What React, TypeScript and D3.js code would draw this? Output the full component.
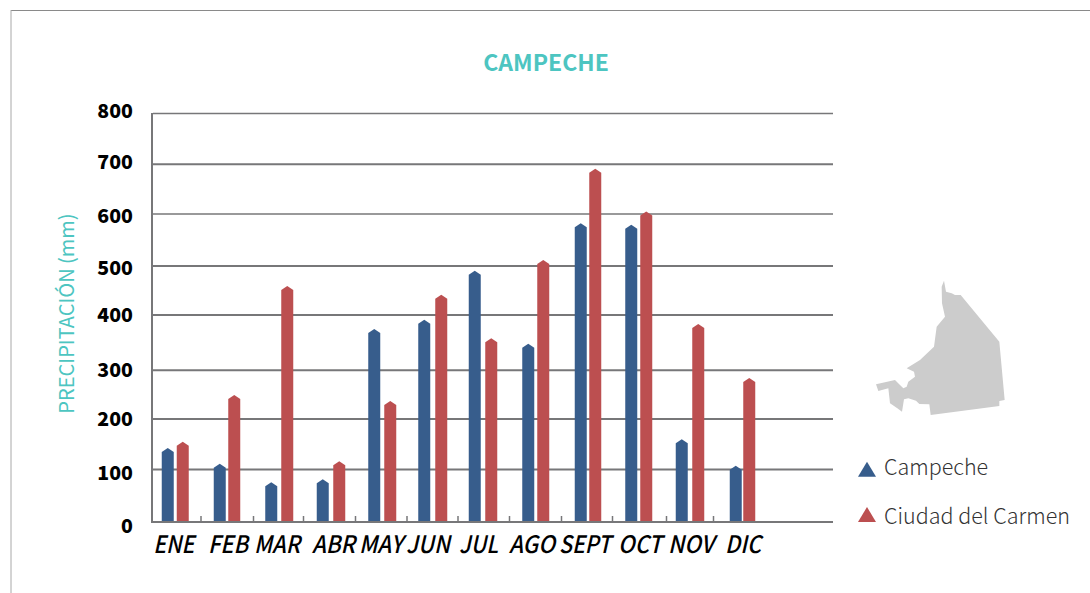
import React from "react";
import * as d3 from "d3";

const months = ["ENE", "FEB", "MAR", "ABR", "MAY", "JUN", "JUL", "AGO", "SEPT", "OCT", "NOV", "DIC"];
const campeche = [143, 112, 76, 82, 376, 394, 490, 347, 583, 580, 160, 108];
const carmen = [155, 247, 460, 117, 235, 443, 358, 511, 690, 606, 386, 280];
const yTicks = [0, 100, 200, 300, 400, 500, 600, 700, 800];
const seriesNames = ["Campeche", "Ciudad del Carmen"];

// Small per-item layout corrections for the uneven hand-placed original
const gridNudge = [0, -1.5, -0.9, 1.5, -2.75, -0.7, -1.6, -0.3, 0];
const gridWidth = [2, 2, 2, 2, 2, 2, 1.5, 2.2, 1.5];
const tickLabelDy = [10.5, 9, 5.8, 8.5, 4.25, 8.3, 7.1, 4.7, 4.5];
const labelNudge = [-2, 0.75, -1.75, 3.25, -0.75, -5.25, -6.25, -4.25, -2.75, 0.75, 0.25, 0.75];
const labelWidths = [41, 40, 46, 43, 44, 44, 39, 46, 52, 44, 46, 36];
const nudgeA = [-0.5, 0, 0, 0, 0, -1.5, -2.5, -0.5, 0.5, -0.5, -1.5, 1];
const nudgeB = [0, 0, 1.5, 2, 1.5, 1, -0.5, 0, 0.5, 0, 0.5, 0];
const tickNudge = [-0.5, 0.5, -1, -0.5, -0.5, -1, -1, -0.5, -1, 1.5, -3, -1.5];

const BLUE = "#375d8c";
const RED = "#bc4f50";
const TEAL = "#4dc5c1";
const GRID = "#777779";
const FONT = '"Noto Sans CJK SC", "Noto Sans", sans-serif';

const mapOutline: [number, number][] = [
  [312, 32], [318, 65], [335, 70], [345, 75], [362, 75], [478, 215], [494, 390], [478, 393], [478, 408],
  [272, 435], [268, 403], [238, 402], [228, 392], [205, 385], [192, 388], [186, 425], [172, 415], [150, 400],
  [145, 355], [115, 363], [108, 343], [165, 330], [180, 345], [190, 355], [200, 350], [205, 335], [225, 320],
  [222, 305], [200, 295], [240, 270], [282, 230], [290, 170], [315, 140], [306, 100], [305, 50],
];

const y = d3.scaleLinear().domain([0, 800]).range([522, 113.5]);
const x = d3.scaleBand().domain(months).range([150, 768]);

function barPath(cx: number, top: number, w: number) {
  const l = cx - w / 2;
  const r = cx + w / 2;
  const p = d3.path();
  p.moveTo(l, 522);
  p.lineTo(l, top + 3);
  p.lineTo(cx, top - 1);
  p.lineTo(r, top + 3);
  p.lineTo(r, 522);
  p.closePath();
  return p.toString();
}

const mapLine = d3.line<[number, number]>().x((d) => 840 + d[0] / 3).y((d) => 270 + d[1] / 3);

export default function App() {
  const bw = x.bandwidth();
  return (
    <svg width={1090} height={593} style={{ position: "absolute", left: 0, top: 0 }} fontFamily={FONT}>
      <rect width={1090} height={593} fill="#fff" />
      <line x1={11} x2={1090} y1={10.5} y2={10.5} stroke="#8a8a8a" strokeWidth={1} />
      <line x1={11} x2={11} y1={10} y2={593} stroke="#a8a8a8" strokeWidth={1} />
      <text x={546} y={70.7} textAnchor="middle" fontSize={23} fontWeight={700} fill={TEAL}>CAMPECHE</text>
      <text transform="translate(73.5,313.5) rotate(-90)" textAnchor="middle" fontSize={20} fill={TEAL}>PRECIPITACIÓN (mm)</text>
      {yTicks.map((t, i) => t > 0 && (
        <line key={t} x1={153} x2={833} y1={y(t) + gridNudge[i]} y2={y(t) + gridNudge[i]} stroke={GRID} strokeWidth={gridWidth[i]} />
      ))}
      {yTicks.map((t, i) => (
        <text key={t} x={133} y={y(t) + tickLabelDy[i]} textAnchor="end" fontSize={19.5} fontWeight={900} fill="#000">{t}</text>
      ))}
      {months.map((m, i) => {
        const b = x(m)!;
        const c = b + bw / 2;
        const tx = b + bw + tickNudge[i];
        return (
          <g key={m}>
            <path d={barPath(c - 7.5 + nudgeA[i], y(campeche[i]), 12)} fill={BLUE} />
            <path d={barPath(c + 7 + nudgeB[i], y(carmen[i]), 12)} fill={RED} />
            {i < 11 && <line x1={tx} x2={tx} y1={516} y2={522} stroke={GRID} strokeWidth={1.5} />}
            <text
              x={c + labelNudge[i]}
              y={552.7}
              textAnchor="middle"
              fontSize={24}
              fontWeight={500}
              fontStyle="italic"
              fill="#000"
              textLength={labelWidths[i]}
              lengthAdjust="spacingAndGlyphs"
            >
              {m}
            </text>
          </g>
        );
      })}
      <line x1={152} x2={152} y1={113} y2={523} stroke={GRID} strokeWidth={2} />
      <line x1={151} x2={833} y1={522} y2={522} stroke={GRID} strokeWidth={2} />
      <path d={mapLine(mapOutline)! + "Z"} fill="#cccccc" />
      {seriesNames.map((s, i) => {
        const base = [476.7, 522][i];
        const textY = [474.5, 523.5][i];
        return (
          <g key={s}>
            <path d={`M858,${base}L867,${base - 15}L876,${base}Z`} fill={[BLUE, RED][i]} />
            <text x={884} y={textY} fontSize={21.5} fontWeight={300} fill="#333">{s}</text>
          </g>
        );
      })}
    </svg>
  );
}
